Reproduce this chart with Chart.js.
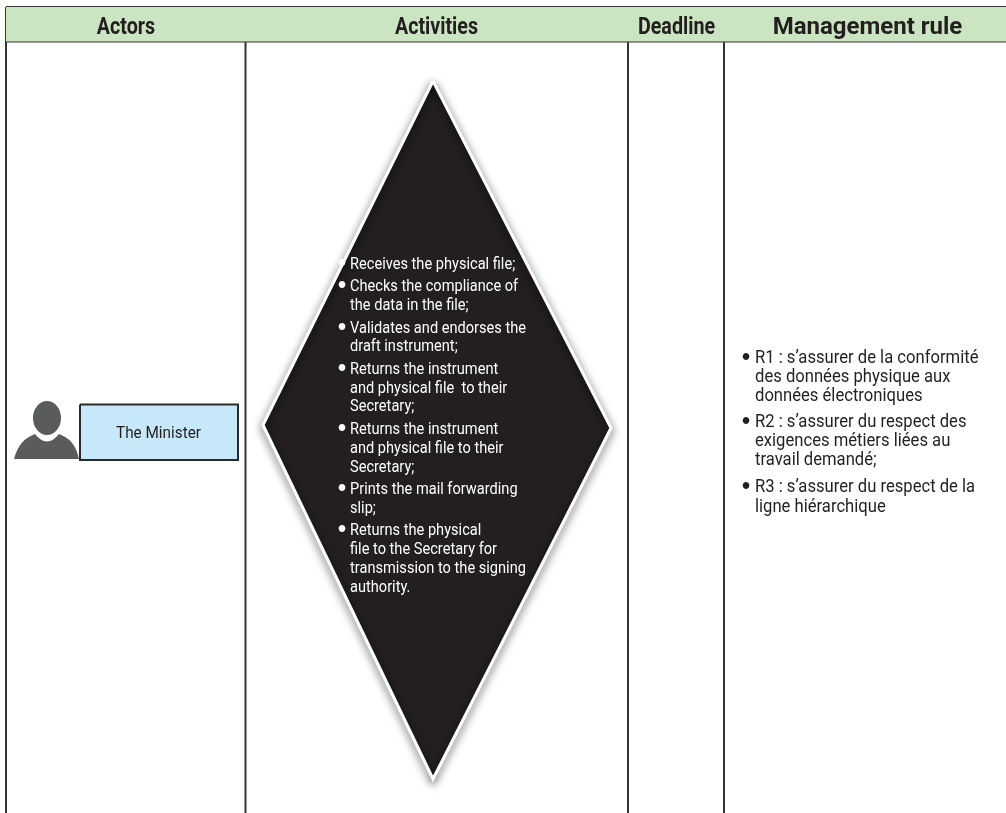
<!DOCTYPE html>
<html><head><meta charset="utf-8">
<style>html,body{margin:0;padding:0;background:#fff}canvas{display:block}</style>
<script src="https://cdn.jsdelivr.net/npm/chart.js@4"></script>
</head><body><canvas id="c" width="1006" height="813"></canvas>
<script>
const headers = ["Actors","Activities","Deadline","Management rule"];
const headerCentres = [126,436.5,676.5,867.5];
const headerScaleX = [0.82,0.82,0.82,1.0];
const columnEdges = [6,245.5,628,724];
const tableTop = 7, headerBottom = 41.5, tableBottom = 813, tableRight = 1006;
const actorName = "The Minister";
const actorBoxX = [80,238], actorBoxY = [404.5,460];
const diamondX = [433,611,433,263,433];
const diamondY = [81,428,779,425,81];
const activityLines = [
 ["•","Receives the physical file;",265],
 ["•","Checks the compliance of",287],
 ["","the data in the file;",306],
 ["•","Validates and endorses the",329],
 ["","draft instrument;",347],
 ["•","Returns the instrument",370],
 ["","and physical file  to their",389],
 ["","Secretary;",407],
 ["•","Returns the instrument",430],
 ["","and physical file to their",449],
 ["","Secretary;",468],
 ["•","Prints the mail forwarding",490],
 ["","slip;",509],
 ["•","Returns the physical",531],
 ["","file to the Secretary for",550],
 ["","transmission to the signing",569],
 ["","authority.",588]
];
const ruleLines = [
 ["•","R1 : s’assurer de la conformité",358.5],
 ["","des données physique aux",378],
 ["","données électroniques",397],
 ["•","R2 : s’assurer du respect des",423],
 ["","exigences métiers liées au",442],
 ["","travail demandé;",461],
 ["•","R3 : s’assurer du respect de la",488],
 ["","ligne hiérarchique",508]
];
const line = "#333333";
const toPts = (xs,ys)=>xs.map((x,i)=>({x,y:ys[i]}));
const rect = (x0,x1,y0,y1)=>toPts([x0,x1,x1,x0,x0],[y0,y0,y1,y1,y0]);
const datasets = [];
datasets.push({data:rect(columnEdges[0],tableRight,tableTop,headerBottom),backgroundColor:"#cbe4c1",borderColor:"rgba(0,0,0,0)",borderWidth:0,fill:"shape"});
columnEdges.forEach(x=>datasets.push({data:toPts([x,x],[tableTop,tableBottom]),borderColor:line,borderWidth:2,fill:false}));
[tableTop,headerBottom].forEach(y=>datasets.push({data:toPts([columnEdges[0],tableRight],[y,y]),borderColor:line,borderWidth:2,fill:false}));
datasets.push({data:rect(actorBoxX[0],actorBoxX[1],actorBoxY[0],actorBoxY[1]),backgroundColor:"#c6e8f9",borderColor:"#2a2a2a",borderWidth:2,fill:"shape"});
const diamondIndex = datasets.length;
datasets.push({data:toPts(diamondX,diamondY),backgroundColor:"#231f20",borderColor:"#ffffff",borderWidth:3,fill:"shape",borderJoinStyle:"miter"});

const labels = {
 id:"labels",
 beforeDatasetDraw(chart,args){
  if(args.index===diamondIndex){const c=chart.ctx;c.save();c.shadowColor="rgba(0,0,0,.85)";c.shadowBlur=9;c.shadowOffsetX=0;c.shadowOffsetY=3;}
 },
 afterDatasetDraw(chart,args){ if(args.index===diamondIndex) chart.ctx.restore(); },
 afterDatasetsDraw(chart){
  const c=chart.ctx,X=v=>chart.scales.x.getPixelForValue(v),Y=v=>chart.scales.y.getPixelForValue(v);
  const text=(s,x,y,font,color,align,sx)=>{c.save();c.translate(X(x),Y(y));c.scale(sx,1);c.font=font;c.fillStyle=color;c.textAlign=align;c.textBaseline="middle";c.fillText(s,0,0);c.restore();};
  headers.forEach((h,i)=>text(h,headerCentres[i],28,"700 24px Roboto","#231f20","center",headerScaleX[i]));
  c.save();c.fillStyle="#5a5b5d";
  c.beginPath();c.moveTo(X(14),Y(459));c.bezierCurveTo(X(18),Y(445),X(24),Y(438),X(35),Y(434));
  c.quadraticCurveTo(X(47),Y(449),X(59),Y(434));c.bezierCurveTo(X(70),Y(438),X(76),Y(445),X(79),Y(459));c.closePath();c.fill();
  c.beginPath();c.ellipse(X(47),Y(418),14,17,0,0,Math.PI*2);c.fill();c.restore();
  text(actorName,158.5,433.5,"400 17px Roboto","#231f20","center",0.9);
  const body=(rows,bx,tx,color,size,sx,weight)=>rows.forEach(r=>{
    if(r[0]) text(r[0],bx,r[2],"700 23px 'Liberation Sans'",color,"center",1);
    text(r[1],tx,r[2],`${weight} ${size}px Roboto`,color,"left",sx);
  });
  body(activityLines,342,350,"#ffffff",16.5,0.885,400);
  body(ruleLines,746,755,"#231f20",17.5,0.95,400);
 }
};
new Chart(document.getElementById("c"),{
 type:"line",
 data:{datasets},
 options:{responsive:false,animation:false,parsing:false,normalized:true,
  layout:{padding:0},
  elements:{point:{radius:0},line:{tension:0}},
  plugins:{legend:{display:false},tooltip:{enabled:false},title:{display:false}},
  scales:{x:{type:"linear",display:false,min:0,max:1006},y:{type:"linear",display:false,reverse:true,min:0,max:813}}
 },
 plugins:[labels]
});
</script></body></html>
